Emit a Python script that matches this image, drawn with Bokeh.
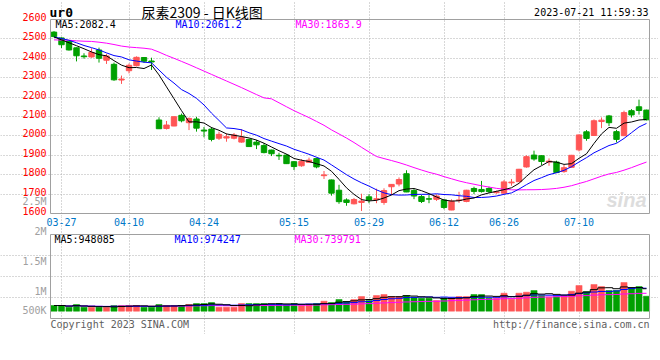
import pandas as pd
from bokeh.plotting import figure
from bokeh.models import Range1d, FixedTicker, Label, ColumnDataSource
from bokeh.layouts import column
from bokeh.embed import file_html
from bokeh.resources import INLINE

# ---------------- data ----------------
dates = ["03-24", "03-27", "03-28", "03-29", "03-30", "03-31",
         "04-03", "04-04", "04-06", "04-07",
         "04-10", "04-11", "04-12", "04-13", "04-14",
         "04-17", "04-18", "04-19", "04-20", "04-21",
         "04-24", "04-25", "04-26", "04-27", "04-28",
         "05-04", "05-05",
         "05-08", "05-09", "05-10", "05-11", "05-12",
         "05-15", "05-16", "05-17", "05-18", "05-19",
         "05-22", "05-23", "05-24", "05-25", "05-26",
         "05-29", "05-30", "05-31", "06-01", "06-02",
         "06-05", "06-06", "06-07", "06-08", "06-09",
         "06-12", "06-13", "06-14", "06-15", "06-16",
         "06-19", "06-20", "06-21",
         "06-26", "06-27", "06-28", "06-29", "06-30",
         "07-03", "07-04", "07-05", "07-06", "07-07",
         "07-10", "07-11", "07-12", "07-13", "07-14",
         "07-17", "07-18", "07-19", "07-20", "07-21"]

open_ = [2535, 2505, 2488, 2454, 2412, 2407, 2443, 2390, 2369, 2288,
         2336, 2362, 2404, 2386, 2082, 2038, 2051, 2106, 2068, 2087,
         2030, 2035, 1988, 1989, 1988, 1968, 1982, 1968, 1950, 1927,
         1900, 1901, 1867, 1846, 1864, 1883, 1795, 1773, 1720, 1670,
         1650, 1657, 1686, 1672, 1657, 1738, 1752, 1805, 1718, 1687,
         1676, 1673, 1670, 1618, 1667, 1662, 1729, 1724, 1729, 1707,
         1705, 1758, 1764, 1840, 1901, 1898, 1865, 1865, 1816, 1838,
         1928, 2021, 2002, 2074, 2103, 2022, 2001, 2130, 2150, 2133]
high = [2540, 2508, 2490, 2456, 2426, 2452, 2455, 2423, 2378, 2311,
        2373, 2410, 2406, 2403, 2096, 2077, 2100, 2115, 2095, 2098,
        2046, 2046, 2022, 2013, 2015, 2035, 1985, 1979, 1962, 1929,
        1913, 1906, 1870, 1880, 1888, 1888, 1819, 1775, 1748, 1678,
        1680, 1702, 1700, 1728, 1730, 1752, 1786, 1823, 1726, 1695,
        1695, 1698, 1672, 1673, 1712, 1722, 1738, 1768, 1738, 1718,
        1772, 1778, 1830, 1900, 1924, 1900, 1884, 1872, 1850, 1902,
        2007, 2030, 2085, 2095, 2108, 2031, 2130, 2138, 2187, 2135]
low = [2508, 2453, 2440, 2384, 2398, 2403, 2378, 2371, 2284, 2268,
       2322, 2358, 2377, 2340, 2036, 2033, 2050, 2070, 2030, 2022,
       1993, 1972, 1979, 1970, 1982, 1965, 1943, 1932, 1910, 1896,
       1876, 1855, 1824, 1841, 1862, 1833, 1778, 1692, 1650, 1640,
       1647, 1613, 1653, 1653, 1645, 1695, 1740, 1710, 1674, 1654,
       1653, 1665, 1622, 1617, 1655, 1658, 1700, 1708, 1705, 1702,
       1703, 1743, 1762, 1836, 1872, 1850, 1846, 1809, 1810, 1836,
       1920, 1975, 2000, 2040, 2051, 1966, 2000, 2095, 2110, 2080]
close = [2512, 2470, 2443, 2413, 2408, 2430, 2400, 2412, 2289, 2293,
         2364, 2405, 2385, 2381, 2037, 2056, 2099, 2078, 2090, 2040,
         2025, 1982, 2008, 1996, 2005, 1993, 1945, 1954, 1914, 1908,
         1897, 1857, 1842, 1869, 1875, 1840, 1799, 1705, 1661, 1657,
         1672, 1664, 1670, 1676, 1718, 1750, 1775, 1711, 1690, 1662,
         1674, 1690, 1631, 1663, 1670, 1720, 1714, 1713, 1713, 1712,
         1763, 1762, 1828, 1893, 1881, 1868, 1870, 1811, 1836, 1900,
         2005, 1987, 2078, 2081, 2068, 1982, 2120, 2108, 2131, 2083]
volume = [239000, 239000, 168000, 281000, 168000, 168000, 168000, 168000, 239000, 239000,
          239000, 239000, 168000, 168000, 281000, 239000, 239000, 239000, 281000, 323000,
          323000, 365000, 168000, 168000, 168000, 323000, 323000, 323000, 323000, 281000,
          323000, 281000, 323000, 239000, 281000, 323000, 420000, 365000, 491000, 407000,
          491000, 617000, 449000, 659000, 701000, 617000, 617000, 659000, 588000, 546000,
          546000, 449000, 559000, 559000, 617000, 617000, 701000, 701000, 546000, 546000,
          756000, 504000, 756000, 798000, 869000, 659000, 588000, 617000, 659000, 840000,
          1079000, 827000, 1121000, 1037000, 869000, 869000, 1205000, 979000, 1037000, 630000]

# moving-average values for days whose window starts before 03-24
ma5_head = [2510, 2495, 2480, 2465]
ma10_head = [2510, 2502, 2493, 2480, 2466, 2455, 2443, 2428, 2414]
ma30_head = [2495, 2494, 2493, 2490, 2488, 2487, 2483, 2478, 2471, 2463,
             2458, 2455, 2452, 2447, 2432, 2415, 2400, 2384, 2368, 2351,
             2334, 2317, 2300, 2283, 2266, 2249, 2231, 2213, 2196]

# latest moving-average readouts printed in the chart's headers
price_ma_last = [2082.4, 2061.2, 1863.9]
volume_ma_last = [948085, 974247, 739791]

tick_dates = ["03-27", "04-10", "04-24", "05-15", "05-29", "06-12", "06-26", "07-10"]
price_ticks = [1600, 1700, 1800, 1900, 2000, 2100, 2200, 2300, 2400, 2500, 2600]
vol_axis_labels = ["2.5M", "2M", "1.5M", "1M", "500K"]

title_code = "ur0"
title_text = "尿素2309 - 日K线图"
stamp_text = "2023-07-21 11:59:33"

# ---------------- derived ----------------
n = len(close)
idx = list(range(n))
cs = pd.Series(close, dtype=float)


def moving(series, w, head):
    vals = series.rolling(w).mean().tolist()
    return [head[i] if i < len(head) else vals[i] for i in range(len(vals))]


ma5 = moving(cs, 5, ma5_head)
ma10 = moving(cs, 10, ma10_head)
ma30 = moving(cs, 30, ma30_head)
vs = pd.Series(volume, dtype=float)
vma5 = vs.rolling(5, min_periods=1).mean().tolist()
vma10 = vs.rolling(10, min_periods=1).mean().tolist()
vma30 = vs.rolling(30, min_periods=1).mean().tolist()

UP, DOWN = "#ff5555", "#00a000"
colors = [UP if c >= o else DOWN for o, c in zip(open_, close)]
src = ColumnDataSource(dict(
    x=idx, o=open_, h=high, l=low, c=close,
    top=[max(o, c) for o, c in zip(open_, close)],
    bot=[min(o, c) for o, c in zip(open_, close)],
    vol=volume, color=colors))

tick_idx = [dates.index(d) for d in tick_dates]

# ---------------- layout (page pixels -> data units) ----------------
W = 658
MAIN_H = 216          # price canvas: page y 0..216
VOL_H = 118           # volume canvas: page y 216..334
X0_PX, SLOT_PX = 53.5, 7.5      # centre of first candle, candle pitch
P_LEFT, P_RIGHT = 50, 649       # panel box, x
M_TOP, M_BOT = 19, 213          # price box: 2600 .. 1600
V_TOP, V_BOT = 234, 318         # volume box
V_BASE, V_PER_PX = 310.7, 42000  # volume zero line and units per pixel
LABEL_RAISE = 2.5               # tick labels sit slightly above their grid line


def px_x(px):
    return (px - X0_PX) / SLOT_PX


def main_y(py):
    return price_ticks[-1] - (py - M_TOP) * (price_ticks[-1] - price_ticks[0]) / (M_BOT - M_TOP)


def vol_y(py):
    return (V_BASE - py) * V_PER_PX


MONO = "DejaVu Sans Mono"
GRID = "#b0b0b0"
FRAME = "#a0a0a0"

xr = Range1d(px_x(0), px_x(W))


def add_text(fig, x, y, text, color="black", size="10px", font=MONO,
             align="left", style="normal"):
    fig.add_layout(Label(x=x, y=y, text=text, text_color=color,
                         text_font_size=size, text_font=font,
                         text_align=align, text_baseline="middle",
                         text_font_style=style))


def base_fig(height, y0, y1):
    f = figure(width=W, height=height, x_range=xr, y_range=Range1d(y0, y1),
               output_backend="svg", toolbar_location=None,
               x_axis_location=None, y_axis_location=None,
               min_border_left=0, min_border_right=0,
               min_border_top=0, min_border_bottom=0)
    f.outline_line_color = None
    for g in (f.xgrid, f.ygrid):
        g.grid_line_color = GRID
        g.grid_line_dash = "1 2"
    return f


box_l, box_r = px_x(P_LEFT), px_x(P_RIGHT)

# ---------------- price panel ----------------
p = base_fig(MAIN_H, main_y(MAIN_H), main_y(0))
p.xgrid.ticker = FixedTicker(ticks=tick_idx)
p.xgrid.bounds = (price_ticks[0], price_ticks[-1])
p.ygrid.ticker = FixedTicker(ticks=price_ticks[1:-1])
p.ygrid.bounds = (box_l, box_r)

add_text(p, px_x(606), main_y(199), "sina", color="#dddddd", size="20px",
         font="Liberation Sans", style="bold italic")

p.segment(x0="x", y0="l", x1="x", y1="h", color="color", line_width=1, source=src)
p.vbar(x="x", width=0.72, top="top", bottom="bot", fill_color="color",
       line_color="color", line_width=1, source=src)
p.line(idx, ma30, color="#ff00ff", line_width=1)
p.line(idx, ma10, color="#0000ff", line_width=1)
p.line(idx, ma5, color="#000000", line_width=1)
p.quad(left=[box_l], right=[box_r], bottom=[price_ticks[0]], top=[price_ticks[-1]],
       fill_color=None, line_color=FRAME, line_width=1)

raise_main = LABEL_RAISE * (price_ticks[-1] - price_ticks[0]) / (M_BOT - M_TOP)
for t in price_ticks:
    add_text(p, px_x(P_LEFT - 4), t + raise_main, str(t), color="#ff0000", align="right")
add_text(p, px_x(P_LEFT - 4), main_y(200.7), vol_axis_labels[0], color="#a0a0a0",
         align="right")

add_text(p, px_x(49), main_y(11.5), title_code, size="13px", style="bold")
add_text(p, px_x(141), main_y(11.5), title_text, size="14px", font="Noto Sans CJK SC")
add_text(p, px_x(648), main_y(12), stamp_text, size="10px", align="right")
add_text(p, px_x(55), main_y(23.5), f"MA5:{price_ma_last[0]:.1f}")
add_text(p, px_x(175), main_y(23.5), f"MA10:{price_ma_last[1]:.1f}", color="#0000ff")
add_text(p, px_x(295), main_y(23.5), f"MA30:{price_ma_last[2]:.1f}", color="#ff00ff")

# ---------------- volume panel ----------------
def vy(py):
    return vol_y(py)


v = base_fig(VOL_H, vy(MAIN_H + VOL_H), vy(MAIN_H))
vb, vt = vy(V_BOT), vy(V_TOP)
v.xgrid.ticker = FixedTicker(ticks=tick_idx)
v.xgrid.bounds = (vb, vt)
q = (vt - vb) / 4
v.ygrid.ticker = FixedTicker(ticks=[vb + k * q for k in (1, 2, 3)])
v.ygrid.bounds = (box_l, box_r)

v.vbar(x="x", width=0.82, top="vol", bottom=0, fill_color="color",
       line_color="color", line_width=0.5, source=src)
v.step(idx, vma30, mode="center", color="#ff00ff", line_width=1)
v.step(idx, vma10, mode="center", color="#0000ff", line_width=1)
v.step(idx, vma5, mode="center", color="#000000", line_width=1)
v.quad(left=[box_l], right=[box_r], bottom=[vb], top=[vt],
       fill_color=None, line_color=FRAME, line_width=1)

for i in tick_idx:
    add_text(v, i, vy(221.5), dates[i], color="#0078c8", align="center")

add_text(v, px_x(54), vy(238.5), f"MA5:{volume_ma_last[0]}")
add_text(v, px_x(174), vy(238.5), f"MA10:{volume_ma_last[1]}", color="#0000ff")
add_text(v, px_x(294), vy(238.5), f"MA30:{volume_ma_last[2]}", color="#ff00ff")
for text, py in zip(vol_axis_labels[1:], [230.7, 261, 290.7, 310]):
    add_text(v, px_x(P_LEFT - 4), vy(py), text, color="#a0a0a0", align="right")
add_text(v, px_x(50), vy(324), "Copyright 2023 SINA.COM", color="#606060")
add_text(v, px_x(649), vy(324), "http://finance.sina.com.cn", color="#606060",
         align="right")

layout = column(p, v, spacing=0)
open("out.html", "w").write(file_html(layout, INLINE))
